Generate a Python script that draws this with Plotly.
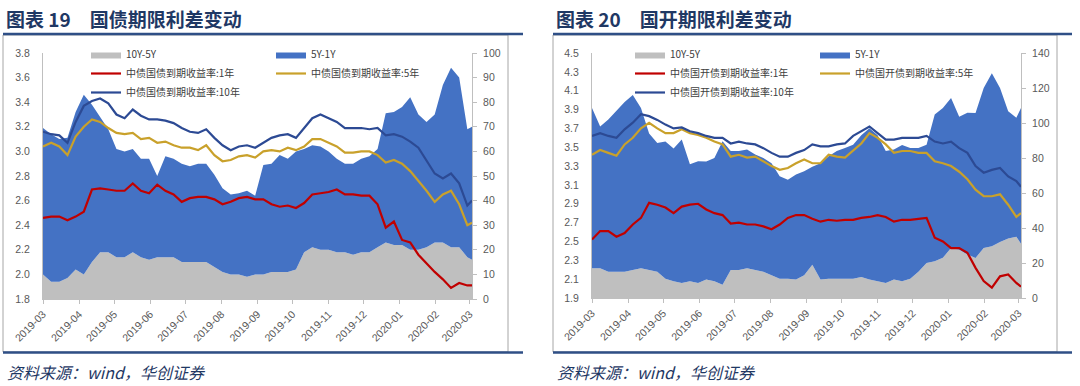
import pandas as pd
import plotly.graph_objects as go

# ---------------- data ----------------
dates = list(pd.date_range("2019-03-01", "2020-02-28", freq="7D").strftime("%Y-%m-%d")) + ["2020-03-03"]

# 图表19 国债
gz_s105 = [10, 7, 7, 8.5, 12, 10, 15, 19, 19, 17,
           17, 19, 17, 16, 17, 17, 17, 15, 15, 15,
           15, 13, 11, 10, 10, 9, 10, 10, 11, 11,
           11, 12, 19, 21, 20, 20, 19, 19, 18, 19,
           19, 21, 23, 22, 22, 20, 20, 21, 23, 23,
           21, 21, 17, 16]
gz_s51 = [59.5, 60, 58, 57, 64, 73, 64, 55, 50, 44,
          43, 42, 40, 41, 33, 41, 40, 40, 39, 40,
          40, 37.5, 34, 32.5, 33, 35, 32, 44.5, 44, 47.5,
          46, 48, 42, 41.5, 42, 40, 38, 36, 37, 38,
          39, 40, 52.5, 54, 56, 62, 55, 51, 52, 64,
          73, 69, 52, 54]
gz_y1 = [2.46, 2.47, 2.47, 2.44, 2.47, 2.51, 2.69, 2.70, 2.69, 2.68,
         2.68, 2.74, 2.68, 2.66, 2.73, 2.68, 2.65, 2.59, 2.62, 2.63,
         2.63, 2.61, 2.57, 2.59, 2.62, 2.63, 2.61, 2.61, 2.57, 2.55,
         2.56, 2.54, 2.58, 2.65, 2.66, 2.67, 2.69, 2.65, 2.65, 2.64,
         2.64, 2.57, 2.38, 2.43, 2.28, 2.26, 2.16, 2.09, 2.02, 1.96,
         1.89, 1.93, 1.91, 1.91]
gz_y5 = [3.04, 3.07, 3.04, 2.97, 3.12, 3.20, 3.26, 3.24, 3.19, 3.15,
         3.14, 3.15, 3.10, 3.11, 3.07, 3.08, 3.05, 3.03, 3.03, 3.01,
         3.05, 2.97, 2.92, 2.93, 2.96, 2.97, 2.95, 3.00, 3.01, 3.00,
         3.03, 3.01, 3.04, 3.10, 3.10, 3.07, 3.04, 2.99, 2.99, 3.00,
         3.00, 2.97, 2.91, 2.93, 2.90, 2.84, 2.76, 2.68, 2.59, 2.65,
         2.68, 2.57, 2.40, 2.42]
gz_y10 = [3.16, 3.14, 3.13, 3.07, 3.24, 3.37, 3.41, 3.43, 3.39, 3.30,
          3.27, 3.34, 3.29, 3.26, 3.26, 3.25, 3.23, 3.19, 3.16, 3.15,
          3.18, 3.11, 3.05, 3.01, 3.04, 3.05, 3.03, 3.07, 3.11, 3.13,
          3.14, 3.11, 3.19, 3.27, 3.30, 3.27, 3.24, 3.19, 3.19, 3.19,
          3.18, 3.19, 3.13, 3.14, 3.12, 3.08, 3.03, 2.92, 2.82, 2.78,
          2.82, 2.74, 2.56, 2.60]

# 图表20 国开
gk_s105 = [17, 17, 15, 15, 15, 16, 17, 16, 15, 11,
           9.5, 8.6, 9.5, 8.6, 10.5, 9.5, 7.6, 16, 16, 17,
           16, 15, 13, 11, 11, 10.5, 13, 19, 10.5, 11,
           11, 11, 11, 12, 10.5, 9.5, 8.6, 10.5, 9.5, 11,
           15, 20, 21, 23, 28.6, 27.6, 24.8, 22.9, 28.6, 29.5,
           32, 34, 35, 31]
gk_s51 = [91.6, 81, 87, 91.7, 97, 100, 91.6, 78, 73.6, 78.5,
          76, 82, 67, 69.5, 67.5, 70.5, 82, 68, 68, 67.8,
          66, 65, 64, 58.5, 56.6, 60, 59.4, 56, 66.5, 70,
          73, 74.7, 76.6, 81, 86.5, 83.5, 75.4, 74.3, 78, 74.7,
          70.7, 67.6, 83.8, 85.6, 85.7, 76, 81, 82.8, 91.4, 99,
          88, 72.7, 68, 77.6]
gk_y1 = [2.52, 2.61, 2.61, 2.55, 2.59, 2.68, 2.75, 2.91, 2.89, 2.86,
         2.80, 2.87, 2.89, 2.90, 2.84, 2.80, 2.78, 2.69, 2.70, 2.68,
         2.68, 2.66, 2.63, 2.68, 2.75, 2.78, 2.78, 2.74, 2.71, 2.73,
         2.72, 2.73, 2.73, 2.75, 2.76, 2.78, 2.76, 2.71, 2.73, 2.73,
         2.74, 2.75, 2.54, 2.50, 2.43, 2.43, 2.38, 2.22, 2.08, 2.01,
         2.13, 2.15, 2.06, 2.02]
gk_y5 = [3.42, 3.47, 3.44, 3.41, 3.53, 3.60, 3.70, 3.76, 3.70, 3.65,
         3.65, 3.69, 3.65, 3.63, 3.60, 3.56, 3.53, 3.40, 3.42, 3.39,
         3.40, 3.35, 3.30, 3.26, 3.28, 3.33, 3.37, 3.33, 3.33, 3.42,
         3.40, 3.39, 3.47, 3.54, 3.65, 3.60, 3.53, 3.44, 3.46, 3.46,
         3.44, 3.44, 3.35, 3.33, 3.30, 3.24, 3.16, 3.05, 2.98, 2.98,
         3.00, 2.89, 2.76, 2.80]
gk_y10 = [3.62, 3.65, 3.62, 3.60, 3.69, 3.76, 3.85, 3.83, 3.79, 3.74,
          3.70, 3.71, 3.67, 3.65, 3.62, 3.60, 3.60, 3.54, 3.56, 3.54,
          3.53, 3.49, 3.44, 3.40, 3.40, 3.44, 3.47, 3.53, 3.51, 3.51,
          3.53, 3.54, 3.62, 3.67, 3.72, 3.65, 3.58, 3.58, 3.60, 3.60,
          3.60, 3.62, 3.56, 3.54, 3.56, 3.49, 3.44, 3.30, 3.23, 3.26,
          3.28, 3.19, 3.14, 3.08]

titles = ["图表 19　国债期限利差变动", "图表 20　国开期限利差变动"]
names_gz = ["10Y-5Y", "5Y-1Y", "中债国债到期收益率:1年", "中债国债到期收益率:5年", "中债国债到期收益率:10年"]
names_gk = ["10Y-5Y", "5Y-1Y", "中债国开债到期收益率:1年", "中债国开债到期收益率:5年", "中债国开债到期收益率:10年"]
source = "资料来源：wind，华创证券"

# ---------------- style ----------------
W, H = 1080, 386
GREY, BLUE = "#BFBFBF", "#4472C4"
RED, GOLD, NAVY = "#C00000", "#C9A12B", "#2C4A94"
NAVY_T = "#1F3864"
CJK = "Noto Sans CJK SC"
TICKC = "#595959"
AXC = "#BFBFBF"

def px(x):
    return x / W

def py(y):
    return 1 - y / H

fig = go.Figure()

panels = [
    dict(s105=gz_s105, s51=gz_s51, y1=gz_y1, y5=gz_y5, y10=gz_y10, names=names_gz,
         xa="x", ya_bp="y", ya_l="y2", lg=("legend", "legend2"),
         x0=43, x1=472, y0=53, y1p=299, lrange=[1.8, 3.8], ldt=0.2, rrange=[0, 100], rdt=10,
         lgx=(86, 271), box=(3, 508), rule=523),
    dict(s105=gk_s105, s51=gk_s51, y1=gk_y1, y5=gk_y5, y10=gk_y10, names=names_gk,
         xa="x2", ya_bp="y3", ya_l="y4", lg=("legend3", "legend4"),
         x0=592, x1=1021, y0=53, y1p=298, lrange=[1.9, 4.5], ldt=0.2, rrange=[0, 140], rdt=20,
         lgx=(630, 815), box=(553, 1057), rule=1072),
]

for p in panels:
    fig.add_trace(go.Scatter(x=dates, y=p["s105"], name=p["names"][0], mode="lines",
                             line=dict(width=0, color=GREY), fillcolor=GREY, stackgroup=p["xa"] + "s",
                             xaxis=p["xa"], yaxis=p["ya_bp"], legend=p["lg"][0]))
    fig.add_trace(go.Scatter(x=dates, y=p["s51"], name=p["names"][1], mode="lines",
                             line=dict(width=0, color=BLUE), fillcolor=BLUE, stackgroup=p["xa"] + "s",
                             xaxis=p["xa"], yaxis=p["ya_bp"], legend=p["lg"][1]))
    fig.add_trace(go.Scatter(x=dates, y=p["y1"], name=p["names"][2], mode="lines",
                             line=dict(width=2.2, color=RED),
                             xaxis=p["xa"], yaxis=p["ya_l"], legend=p["lg"][0]))
    fig.add_trace(go.Scatter(x=dates, y=p["y5"], name=p["names"][3], mode="lines",
                             line=dict(width=2.2, color=GOLD),
                             xaxis=p["xa"], yaxis=p["ya_l"], legend=p["lg"][1]))
    fig.add_trace(go.Scatter(x=dates, y=p["y10"], name=p["names"][4], mode="lines",
                             line=dict(width=2.2, color=NAVY),
                             xaxis=p["xa"], yaxis=p["ya_l"], legend=p["lg"][0]))

tickfont = dict(family="Liberation Sans", size=10.5, color=TICKC)
layout = dict(
    width=W, height=H, margin=dict(l=0, r=0, t=0, b=0),
    paper_bgcolor="white", plot_bgcolor="white", showlegend=True,
    hovermode=False,
)

for i, p in enumerate(panels):
    xk = "xaxis" if i == 0 else "xaxis2"
    bpk = "yaxis" if i == 0 else "yaxis3"
    lk = "yaxis2" if i == 0 else "yaxis4"
    xa = p["xa"]
    layout[xk] = dict(domain=[px(p["x0"]), px(p["x1"])], anchor=p["ya_bp"], type="date",
                      range=["2019-03-01", "2020-03-03"], tickformat="%Y-%m", dtick="M1",
                      tick0="2019-03-01", tickangle=-45, ticks="outside", ticklen=4,
                      tickcolor=AXC, showline=True, linecolor=AXC, showgrid=False,
                      tickfont=tickfont, automargin=False, zeroline=False)
    layout[bpk] = dict(domain=[py(p["y1p"]), py(p["y0"])], anchor=xa, side="right",
                       range=p["rrange"], dtick=p["rdt"], tick0=0, ticks="outside", ticklen=4,
                       tickcolor=AXC, showline=True, linecolor=AXC, showgrid=False,
                       zeroline=False, tickfont=tickfont, automargin=False, ticklabelstandoff=4)
    layout[lk] = dict(overlaying=p["ya_bp"], anchor=xa, side="left",
                      range=p["lrange"], dtick=p["ldt"], tick0=p["lrange"][0], tickformat=".1f",
                      ticks="", showline=True, linecolor=AXC, showgrid=False, zeroline=False,
                      tickfont=tickfont, automargin=False, ticklabelstandoff=10)
    lgfont = dict(family=CJK, size=10, color="#404040")
    for k, lx in zip(p["lg"], p["lgx"]):
        layout[k] = dict(x=px(lx), y=py(40), xanchor="left", yanchor="top",
                         orientation="v", font=lgfont, bgcolor="rgba(0,0,0,0)",
                         traceorder="normal", tracegroupgap=0,
                         itemclick=False, itemdoubleclick=False)

fig.update_layout(**layout)

shapes = []
annotations = []
for i, p in enumerate(panels):
    bx0, bx1 = p["box"]
    # frame
    shapes.append(dict(type="rect", xref="paper", yref="paper",
                       x0=px(bx0), x1=px(bx1), y0=py(352), y1=py(35),
                       line=dict(color="#A6A6A6", width=1), fillcolor="rgba(0,0,0,0)", layer="below"))
    # title rule
    shapes.append(dict(type="line", xref="paper", yref="paper",
                       x0=px(bx0), x1=px(p["rule"]), y0=py(34), y1=py(34),
                       line=dict(color="#2F4F86", width=2.5)))
    # bottom rule
    shapes.append(dict(type="line", xref="paper", yref="paper",
                       x0=px(bx0), x1=px(p["rule"]), y0=py(352.5), y1=py(352.5),
                       line=dict(color="#2F4F86", width=2.5)))
    annotations.append(dict(text="<b>" + titles[i] + "</b>", xref="paper", yref="paper",
                            x=px(bx0 + 1), y=py(19), xanchor="left", yanchor="middle",
                            showarrow=False, font=dict(family=CJK, size=19, color=NAVY_T)))
    annotations.append(dict(text="<i>" + source + "</i>", xref="paper", yref="paper",
                            x=px(bx0 + 2), y=py(372), xanchor="left", yanchor="middle",
                            showarrow=False, font=dict(family=CJK, size=16, color=NAVY_T)))

fig.update_layout(shapes=shapes, annotations=annotations)
fig.write_html("out.html", config={"displayModeBar": False, "staticPlot": True},
               post_script="document.body.style.margin='0px';document.body.style.overflow='hidden';")
